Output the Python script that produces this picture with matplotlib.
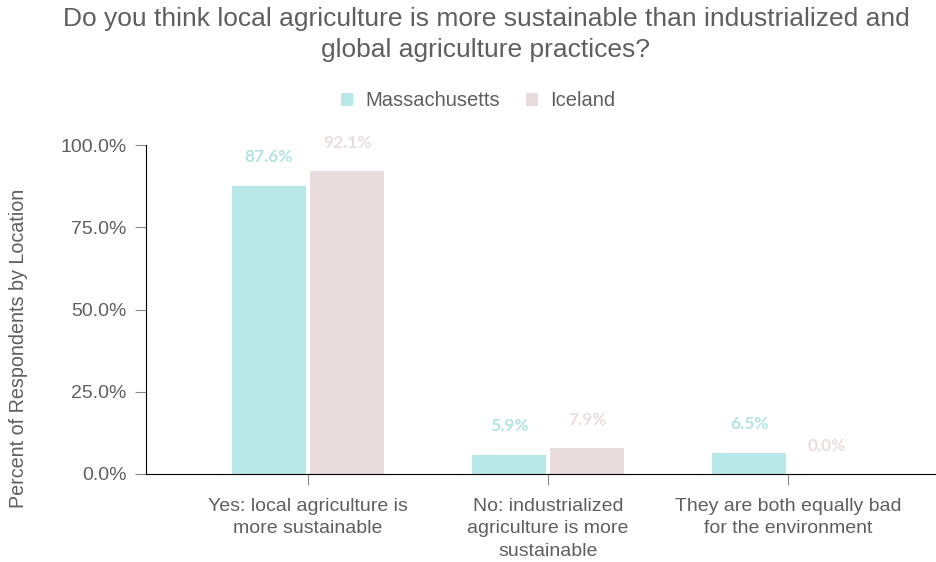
import matplotlib
matplotlib.use("Agg")
import matplotlib.pyplot as plt
import numpy as np

plt.rcParams['font.family'] = ['Liberation Sans', 'DejaVu Sans']

categories = ["Yes: local agriculture is\nmore sustainable",
              "No: industrialized\nagriculture is more\nsustainable",
              "They are both equally bad\nfor the environment"]
series_names = ["Massachusetts", "Iceland"]
massachusetts = [0.876, 0.059, 0.065]
iceland = [0.921, 0.079, 0.000]
yticks = [0.0, 0.25, 0.5, 0.75, 1.0]
ytick_labels = ["0.0%", "25.0%", "50.0%", "75.0%", "100.0%"]

bar_colors = ["#b8e8e8", "#e8dcdc"]
label_colors = ["#b3e4e4", "#ebdddd"]
grey = "#5f5f5f"

fig = plt.figure(figsize=(9.37, 5.62), dpi=100)
ax = fig.add_axes([146/937, 88/562, 1 - 146/937, 329/562])

x = np.arange(len(categories))
w = 0.31
off = 0.1625
for vals, o, c, lc, name in [(massachusetts, -off, bar_colors[0], label_colors[0], series_names[0]),
                             (iceland, off, bar_colors[1], label_colors[1], series_names[1])]:
    bars = ax.bar(x + o, vals, width=w, color=c, label=name, zorder=2)
    for xi, v in zip(x + o, vals):
        ax.annotate(f"{v*100:.1f}%", (xi, v), xytext=(0, 20.5), textcoords="offset points",
                    ha="center", va="center", fontsize=12.5, fontweight="bold",
                    color=lc, family=["Lato", "DejaVu Sans"])

ax.set_xlim(-0.675, 2.62)
ax.set_ylim(0, 1.0)
ax.set_yticks(yticks)
ax.set_yticklabels(ytick_labels, fontsize=14, color=grey)
ax.set_xticks(x)
ax.set_xticklabels(categories, fontsize=14, color=grey, linespacing=1.45)
ax.tick_params(axis='y', length=8, color="#888888", pad=6)
ax.tick_params(axis='x', length=8, color="#888888", pad=9)
for s in ["top", "right"]:
    ax.spines[s].set_visible(False)
ax.spines["left"].set_color("black")
ax.spines["bottom"].set_color("black")
ax.set_ylabel("Percent of Respondents by Location", fontsize=14.2, color=grey)
ax.yaxis.set_label_coords(-(146 - 28) / (937 - 146), (474 - 348) / 329)

fig.text(486/937, 1 - 7/562, "Do you think local agriculture is more sustainable than industrialized and\nglobal agriculture practices?",
         ha="center", va="top", fontsize=19, color=grey, linespacing=1.38)

leg = fig.legend(loc="center", bbox_to_anchor=(478/937, 1 - 101/562), ncol=2, frameon=False,
                 fontsize=14.5, handlelength=0.6, handleheight=0.6, handletextpad=0.6,
                 columnspacing=1.3, labelcolor=grey)

fig.savefig("out.png", dpi=100)
